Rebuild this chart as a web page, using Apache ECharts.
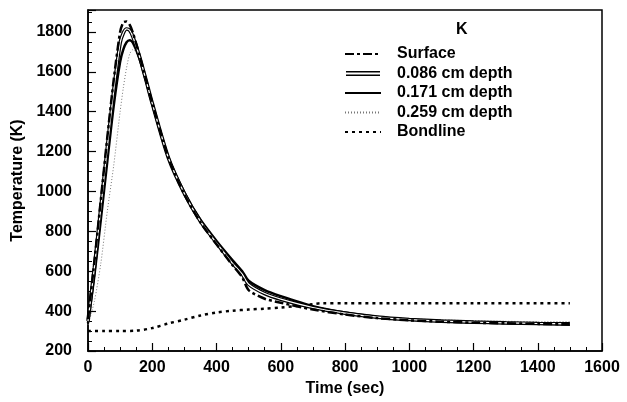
<!DOCTYPE html>
<html>
<head>
<meta charset="utf-8">
<script src="https://cdn.jsdelivr.net/npm/echarts@6/dist/echarts.min.js"></script>
<style>html,body{margin:0;padding:0;background:#fff;}#c{width:627px;height:402px;}</style>
</head>
<body>
<div id="c"></div>
<script>
var times = [0, 20, 40, 60, 80, 100, 110, 120, 130, 140, 160, 180, 200, 250, 300, 350, 400, 450, 480, 500, 550, 600, 700, 800, 900, 1000, 1100, 1200, 1300, 1400, 1500];
var surface =   [360, 650, 960, 1270, 1560, 1800, 1848, 1852, 1835, 1795, 1685, 1565, 1445, 1170, 985, 845, 735, 630, 570, 505, 462, 442, 408, 383, 365, 354, 347, 342, 339, 336, 334];
var depth086 =  [350, 620, 920, 1220, 1505, 1745, 1795, 1815, 1808, 1775, 1678, 1562, 1442, 1170, 990, 850, 742, 640, 585, 535, 488, 460, 418, 390, 370, 358, 350, 345, 341, 338, 336];
var depth171 =  [340, 580, 860, 1150, 1430, 1650, 1712, 1748, 1758, 1745, 1668, 1558, 1438, 1172, 995, 858, 752, 655, 600, 552, 505, 475, 425, 393, 371, 357, 350, 344, 340, 337, 333];
var depth259 =  [330, 450, 640, 900, 1130, 1400, 1520, 1620, 1690, 1712, 1665, 1555, 1435, 1168, 990, 852, 746, 645, 592, 542, 492, 465, 420, 392, 372, 362, 356, 352, 349, 347, 346];
var bondTimes = [0, 50, 100, 150, 200, 250, 300, 350, 400, 450, 500, 550, 600, 650, 700, 730, 800, 1000, 1200, 1400, 1500];
var bondline =  [300, 300, 300, 302, 315, 338, 357, 378, 393, 402, 408, 412, 418, 426, 435, 440, 440, 440, 440, 440, 440];
var xTicks = [0, 200, 400, 600, 800, 1000, 1200, 1400, 1600];
var yTicks = [200, 400, 600, 800, 1000, 1200, 1400, 1600, 1800];

function pairs(t, v) { return t.map(function (x, i) { return [x, v[i]]; }); }

var FONT = "'Liberation Sans', Arial, Helvetica, sans-serif";
var chart = echarts.init(document.getElementById('c'), null, {renderer: 'canvas'});
var lineBase = {type: 'line', showSymbol: false, symbol: 'none', smooth: 0.25, animation: false};

chart.setOption({
  animation: false,
  backgroundColor: '#fff',
  grid: {left: 88, top: 10, right: 25, bottom: 50, show: true, borderColor: '#000', borderWidth: 1.5},
  graphic: [{type: 'text', left: 456, top: 22, style: {text: 'K', font: 'bold 16px ' + FONT, fill: '#000'}}],
  legend: {
    orient: 'vertical', left: 339, top: 41, itemWidth: 36, itemHeight: 5, itemGap: 3.5,
    itemStyle: {color: 'transparent', borderWidth: 0},
    textStyle: {fontFamily: FONT, fontSize: 16, fontWeight: 'bold', color: '#000', padding: [0, 0, 0, 11]},
    data: [
      {name: 'Surface'},
      {name: '0.086 cm depth', icon: 'path://M0,0H34V1.6H0Z M0,3.4H34V5H0Z', itemStyle: {color: '#000'}},
      {name: '0.171 cm depth'},
      {name: '0.259 cm depth'},
      {name: 'Bondline'}
    ]
  },
  xAxis: {
    type: 'value', min: 0, max: 1600, interval: 200,
    name: 'Time (sec)', nameLocation: 'middle', nameGap: 30,
    nameTextStyle: {fontFamily: FONT, fontSize: 16, fontWeight: 'bold', color: '#000'},
    axisLine: {lineStyle: {color: '#000', width: 1.5}},
    axisTick: {inside: true, length: 8, lineStyle: {color: '#000', width: 1.2}},
    minorTick: {show: true, splitNumber: 4, length: 4, lineStyle: {color: '#000', width: 1}},
    axisLabel: {margin: 9, fontFamily: FONT, fontSize: 16, fontWeight: 'bold', color: '#000',
      formatter: function (v) { return xTicks.indexOf(v) >= 0 ? String(v) : ''; }},
    splitLine: {show: false}
  },
  yAxis: {
    type: 'value', min: 200, max: 1910, interval: 200,
    name: 'Temperature (K)', nameLocation: 'middle', nameGap: 60,
    nameTextStyle: {fontFamily: FONT, fontSize: 16, fontWeight: 'bold', color: '#000'},
    axisLine: {show: true, lineStyle: {color: '#000', width: 1.5}},
    axisTick: {inside: true, length: 8, lineStyle: {color: '#000', width: 1.2}},
    minorTick: {show: true, splitNumber: 4, length: 4, lineStyle: {color: '#000', width: 1}},
    axisLabel: {margin: 16, fontFamily: FONT, fontSize: 16, fontWeight: 'bold', color: '#000',
      formatter: function (v) { return yTicks.indexOf(v) >= 0 ? String(v) : ''; }},
    splitLine: {show: false}
  },
  series: [
    Object.assign({}, lineBase, {name: 'Bondline', data: pairs(bondTimes, bondline), smooth: 0.3,
      lineStyle: {color: '#000', width: 2.5, type: [3, 4]}, itemStyle: {color: '#000'}}),
    Object.assign({}, lineBase, {name: '0.259 cm depth', data: pairs(times, depth259),
      lineStyle: {color: '#777', width: 1, type: [1, 2]}, itemStyle: {color: '#777'}}),
    Object.assign({}, lineBase, {name: '0.171 cm depth', data: pairs(times, depth171),
      lineStyle: {color: '#000', width: 2.5}, itemStyle: {color: '#000'}}),
    Object.assign({}, lineBase, {name: '0.086 cm depth', data: pairs(times, depth086),
      lineStyle: {color: '#000', width: 3.6}, itemStyle: {color: '#000'}}),
    Object.assign({}, lineBase, {name: '0.086 inner', data: pairs(times, depth086), silent: true,
      lineStyle: {color: '#fff', width: 1.2}, itemStyle: {color: '#fff'}}),
    Object.assign({}, lineBase, {name: 'Surface', data: pairs(times, surface),
      lineStyle: {color: '#000', width: 2.5, type: [9, 3, 3, 3]}, itemStyle: {color: '#000'}})
  ]
});
</script>
</body>
</html>
